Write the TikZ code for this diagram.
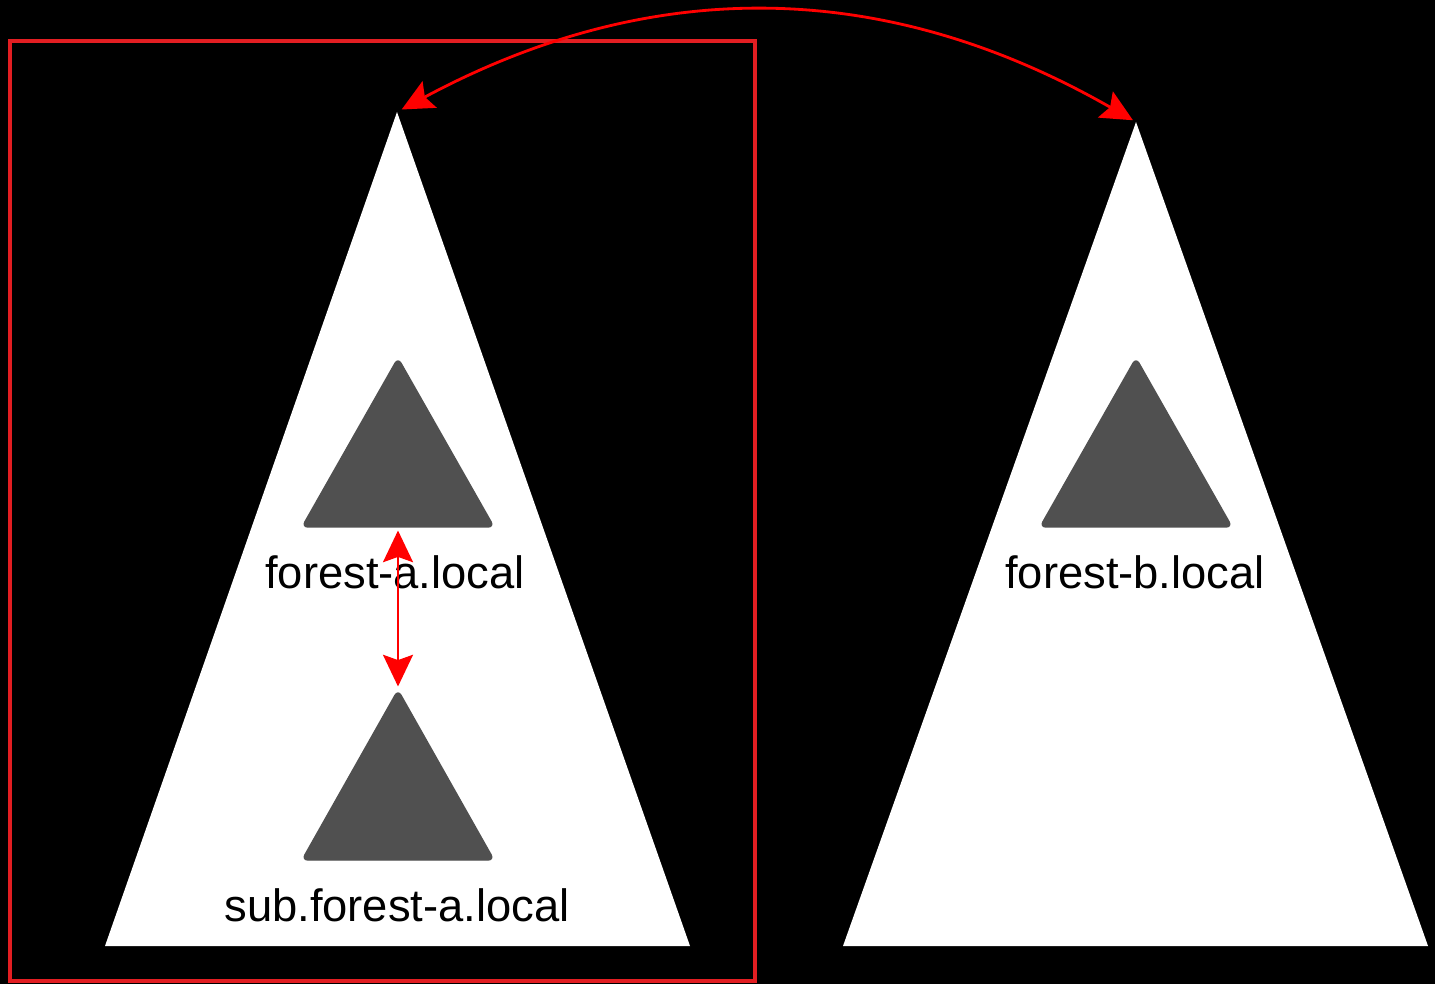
\documentclass[tikz,border=0pt]{standalone}
\usepackage{fontspec}
\setmainfont{Liberation Sans}
\usetikzlibrary{arrows.meta}

\definecolor{boxred}{RGB}{226,30,34}
\definecolor{trustred}{RGB}{255,0,0}
\definecolor{domaingrey}{RGB}{80,80,80}

\begin{document}
\begin{tikzpicture}[
  forest/.style={fill=white},
  dom/.style={fill=domaingrey,draw=domaingrey,line width=0.4pt,rounded corners=0.06cm},
  lbl/.style={font=\fontsize{12.9}{15}\selectfont,text=black,inner sep=0pt},
  trust/.style={draw=trustred,line width=0.8pt,
    {Stealth[length=9pt,width=8.5pt,inset=1.5pt]}-{Stealth[length=9pt,width=8.5pt,inset=1.5pt]}}
]
\useasboundingbox (0,0) rectangle (14.35,9.84);
\fill[black] (0,0) rectangle (14.35,9.84);

% forest tops and domain ends
\coordinate (fa-top) at (3.97,8.72);
\coordinate (fb-top) at (11.36,8.62);
\coordinate (da-base) at (3.98,4.57);
\coordinate (sa-top) at (3.98,2.94);

% the two forests
\fill[forest] (fa-top) -- (6.90,0.38) -- (1.05,0.38) -- cycle;
\fill[forest] (fb-top) -- (14.28,0.38) -- (8.43,0.38) -- cycle;

% domains
\draw[dom] (3.98,6.26) -- (4.94,4.57) -- (3.02,4.57) -- cycle;
\draw[dom] (sa-top) -- (4.94,1.24) -- (3.02,1.24) -- cycle;
\draw[dom] (11.36,6.26) -- (12.32,4.57) -- (10.40,4.57) -- cycle;

\node[lbl] (la) at (3.95,4.12) {forest-a.local};
\node[lbl] (lsub) at (3.97,0.79) {sub.forest-a.local};
\node[lbl] (lb) at (11.35,4.12) {forest-b.local};

\draw[boxred,line width=0.045cm] (0.10,0.03) rectangle (7.55,9.43);

% trusts
\draw[trust,shorten <=1.5pt,shorten >=1pt] (fa-top) to[bend left=29] (fb-top);
\draw[trust,shorten <=1pt,shorten >=1pt] (da-base) -- (sa-top);
\end{tikzpicture}
\end{document}
